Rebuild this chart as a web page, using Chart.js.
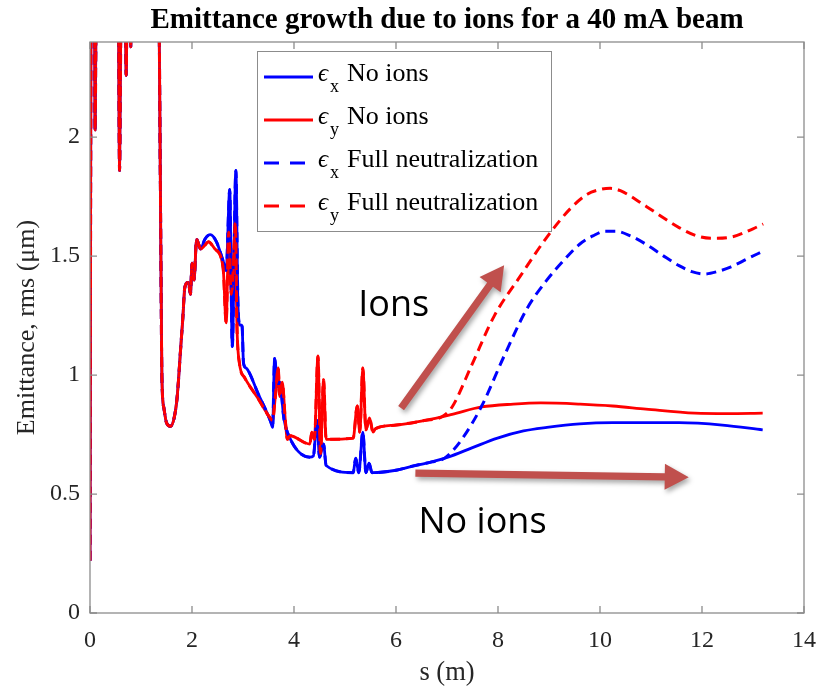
<!DOCTYPE html>
<html>
<head>
<meta charset="utf-8">
<script src="https://cdn.jsdelivr.net/npm/chart.js@4.4.1/dist/chart.umd.min.js"></script>
<style>
  html, body { margin: 0; padding: 0; background: #fff; }
  #wrap { width: 829px; height: 689px; }
</style>
</head>
<body>
<div id="wrap"><canvas id="grafica" width="829" height="689"></canvas></div>
<script>
// eps_x, no ions
const sBlue = [0, 0.03, 0.07, 0.09, 0.10, 0.12, 0.15, 0.50, 0.55, 0.58, 0.62, 0.68, 0.71, 0.74, 0.78, 0.80, 0.82,
  1.33, 1.38, 1.41, 1.45, 1.50, 1.58, 1.65, 1.71, 1.78, 1.82, 1.86, 1.93, 1.97, 2.00, 2.04, 2.09, 2.17, 2.25, 2.36,
  2.48, 2.61, 2.67, 2.74, 2.79, 2.86, 2.90, 2.94, 2.98, 3.01, 3.06, 3.30, 3.55, 3.58, 3.62, 3.68, 3.72, 3.80, 3.87,
  4.31, 4.38, 4.45, 4.50, 4.58, 4.63, 5.16, 5.21, 5.27, 5.35, 5.41, 5.47, 5.53, 6.00, 6.38, 6.70, 7.02, 7.50, 7.99,
  8.50, 8.96, 9.60, 10.25, 10.90, 11.55, 12.40, 13.19];
const exNoIons = [0.22, 3.2, 2.9, 2.5, 2.03, 2.6, 3.4, 3.2, 2.9, 1.86, 2.9, 3.0, 2.26, 3.0, 2.6, 2.38, 2.7,
  3.0, 1.8, 0.99, 0.86, 0.80, 0.785, 0.82, 0.91, 1.12, 1.24, 1.37, 1.39, 1.34, 1.47, 1.40, 1.57, 1.53, 1.57, 1.59,
  1.56, 1.48, 1.44, 1.78, 1.12, 1.86, 1.31, 1.21, 1.21, 1.05, 1.03, 0.92, 0.80, 0.78, 1.07, 0.95, 0.97, 0.82, 0.76,
  0.655, 0.66, 0.81, 0.655, 0.71, 0.62, 0.59, 0.65, 0.59, 0.76, 0.59, 0.63, 0.59, 0.60, 0.62, 0.635, 0.655, 0.695, 0.735,
  0.765, 0.78, 0.795, 0.80, 0.80, 0.80, 0.79, 0.77];

// eps_y, no ions
const sRed = [0, 0.03, 0.07, 0.09, 0.10, 0.12, 0.15, 0.50, 0.55, 0.58, 0.62, 0.68, 0.71, 0.74, 0.78, 0.80, 0.82,
  1.33, 1.38, 1.41, 1.45, 1.50, 1.58, 1.65, 1.71, 1.78, 1.82, 1.86, 1.93, 1.97, 2.00, 2.04, 2.09, 2.17, 2.25, 2.32,
  2.45, 2.61, 2.67, 2.72, 2.77, 2.81, 2.85, 2.88, 2.93, 3.03, 3.30, 3.53, 3.58, 3.63, 3.69, 3.72, 3.77, 3.83, 3.87,
  3.92, 4.31, 4.35, 4.40, 4.47, 4.52, 4.58, 4.63, 5.16, 5.24, 5.29, 5.35, 5.41, 5.48, 5.55, 5.60, 6.00, 6.58, 7.10,
  7.68, 8.30, 8.84, 9.61, 10.25, 10.90, 11.86, 12.50, 13.19];
const eyNoIons = [0.22, 3.2, 2.9, 2.5, 2.03, 2.6, 3.4, 3.2, 2.9, 1.86, 2.9, 3.0, 2.26, 3.0, 2.6, 2.38, 2.7,
  3.0, 1.8, 0.99, 0.86, 0.80, 0.785, 0.82, 0.91, 1.12, 1.24, 1.37, 1.39, 1.34, 1.47, 1.40, 1.57, 1.53, 1.545, 1.56,
  1.53, 1.45, 1.22, 1.60, 1.34, 1.45, 1.64, 1.22, 1.05, 0.99, 0.90, 0.82, 0.81, 0.90, 1.03, 0.91, 0.97, 0.81, 0.73,
  0.745, 0.71, 0.76, 0.73, 1.08, 0.67, 0.98, 0.73, 0.735, 0.87, 0.76, 1.03, 0.77, 0.82, 0.76, 0.775, 0.79, 0.81, 0.835,
  0.866, 0.878, 0.883, 0.878, 0.87, 0.857, 0.84, 0.838, 0.84];

// full neutralization: same as no ions up to the split, then these
const sBlueFull = [6.96, 7.29, 7.68, 8.12, 8.57, 8.96, 9.28, 9.60, 9.86, 10.10, 10.30, 10.60, 10.90, 11.25, 11.55,
  11.80, 12.05, 12.30, 12.57, 12.90, 13.19];
const exFull = [0.652, 0.73, 0.87, 1.08, 1.28, 1.40, 1.48, 1.55, 1.585, 1.605, 1.605, 1.585, 1.55, 1.50, 1.46,
  1.435, 1.425, 1.435, 1.455, 1.49, 1.52];
const sRedFull = [6.90, 7.10, 7.48, 7.93, 8.45, 8.96, 9.42, 9.75, 10.00, 10.20, 10.40, 10.90, 11.25, 11.55, 11.90,
  12.19, 12.57, 13.00, 13.20];
const eyFull = [0.825, 0.866, 1.04, 1.25, 1.42, 1.58, 1.70, 1.76, 1.78, 1.785, 1.775, 1.71, 1.66, 1.62, 1.585,
  1.575, 1.58, 1.615, 1.635];

const xTicks = [0, 2, 4, 6, 8, 10, 12, 14];
const yTicks = [0, 0.5, 1, 1.5, 2];
const etiquetas = [
  { sub: 'x', texto: 'No ions' },
  { sub: 'y', texto: 'No ions' },
  { sub: 'x', texto: 'Full neutralization' },
  { sub: 'y', texto: 'Full neutralization' }
];

const AZUL = '#0000ff', ROJO = '#ff0000', FLECHA = '#c0504d', EJE = '#8c8c8c';
const SERIF = '"Liberation Serif", "Times New Roman", "DejaVu Serif", serif';
const DASH = [10, 6];

// annotation anchors in data units (s, emittance)
const notas = {
  ions: { s: 5.26, e: 1.248, texto: 'Ions' },
  noIons: { s: 6.44, e: 0.336, texto: 'No ions' },
  flechaIons: [[6.10, 0.861], [8.12, 1.462]],
  flechaNo: [[6.38, 0.588], [11.74, 0.571]]
};

function puntos(xs, ys) { return xs.map((x, i) => ({ x, y: ys[i] })); }
function conCorte(xs, ys, xsFin, ysFin) {
  const corte = xsFin[0];
  return puntos(xs, ys).filter(p => p.x < corte).concat(puntos(xsFin, ysFin));
}

function flecha(ctx, x1, y1, x2, y2) {
  const ang = Math.atan2(y2 - y1, x2 - x1);
  const largo = Math.hypot(x2 - x1, y2 - y1);
  const cab = 24, anchoCab = 13, grosor = 3.6;
  ctx.save();
  ctx.translate(x1, y1);
  ctx.rotate(ang);
  ctx.shadowColor = 'rgba(0,0,0,0.35)';
  ctx.shadowBlur = 5;
  ctx.shadowOffsetX = 2;
  ctx.shadowOffsetY = 3;
  ctx.fillStyle = FLECHA;
  ctx.beginPath();
  ctx.moveTo(0, -grosor);
  ctx.lineTo(largo - cab, -grosor);
  ctx.lineTo(largo - cab, -anchoCab);
  ctx.lineTo(largo, 0);
  ctx.lineTo(largo - cab, anchoCab);
  ctx.lineTo(largo - cab, grosor);
  ctx.lineTo(0, grosor);
  ctx.closePath();
  ctx.fill();
  ctx.restore();
}

const decoracion = {
  id: 'decoracion',
  afterDatasetsDraw(chart) {
    const { ctx, chartArea: a, scales: { x, y } } = chart;
    ctx.save();
    ctx.strokeStyle = EJE;
    ctx.lineWidth = 1.3;
    ctx.strokeRect(a.left, a.top, a.right - a.left, a.bottom - a.top);
    ctx.beginPath();
    xTicks.forEach(v => {
      const px = x.getPixelForValue(v);
      ctx.moveTo(px, a.bottom); ctx.lineTo(px, a.bottom - 7);
      ctx.moveTo(px, a.top); ctx.lineTo(px, a.top + 7);
    });
    yTicks.forEach(v => {
      const py = y.getPixelForValue(v);
      ctx.moveTo(a.left, py); ctx.lineTo(a.left + 7, py);
      ctx.moveTo(a.right, py); ctx.lineTo(a.right - 7, py);
    });
    ctx.stroke();

    // title
    ctx.fillStyle = '#000';
    ctx.font = 'bold 29px ' + SERIF;
    ctx.textAlign = 'center';
    ctx.textBaseline = 'middle';
    ctx.fillText('Emittance growth due to ions for a 40 mA beam', (a.left + a.right) / 2, 21);

    // legend
    const lx = a.left + 167, ly = a.top + 9, lw = 294, lh = 180;
    ctx.fillStyle = '#fff';
    ctx.fillRect(lx, ly, lw, lh);
    ctx.strokeStyle = EJE;
    ctx.lineWidth = 1;
    ctx.strokeRect(lx + 0.5, ly + 0.5, lw, lh);
    chart.data.datasets.forEach((ds, i) => {
      const fy = ly + 26 + i * 43;
      ctx.strokeStyle = ds.borderColor;
      ctx.lineWidth = 3;
      ctx.setLineDash(ds.borderDash ? [15, 11] : []);
      ctx.beginPath(); ctx.moveTo(lx + 7, fy); ctx.lineTo(lx + 56, fy); ctx.stroke();
      ctx.setLineDash([]);
      ctx.fillStyle = '#000';
      ctx.textAlign = 'left';
      ctx.textBaseline = 'alphabetic';
      ctx.font = 'italic 25px ' + SERIF;
      ctx.fillText('\u03f5', lx + 61, fy + 4);
      ctx.font = '18px ' + SERIF;
      ctx.fillText(etiquetas[i].sub, lx + 73, fy + 15);
      ctx.font = '26px ' + SERIF;
      ctx.fillText(etiquetas[i].texto, lx + 90, fy + 4);
    });

    // annotations
    const P = (s, e) => [x.getPixelForValue(s), y.getPixelForValue(e)];
    const [a1, b1] = notas.flechaIons.map(p => P(p[0], p[1]));
    const [a2, b2] = notas.flechaNo.map(p => P(p[0], p[1]));
    flecha(ctx, a1[0], a1[1], b1[0], b1[1]);
    flecha(ctx, a2[0], a2[1], b2[0], b2[1]);
    ctx.fillStyle = '#000';
    ctx.font = '36px "Open Sans", "Noto Sans", sans-serif';
    ctx.textAlign = 'left';
    ctx.textBaseline = 'alphabetic';
    [notas.ions, notas.noIons].forEach(n => {
      const [px, py] = P(n.s, n.e);
      ctx.fillText(n.texto, px, py);
    });
    ctx.restore();
  }
};

Chart.defaults.font.family = SERIF;

new Chart(document.getElementById('grafica'), {
  type: 'line',
  data: {
    datasets: [
      { label: 'ex no ions', data: puntos(sBlue, exNoIons), borderColor: AZUL, borderWidth: 2.8, order: 3 },
      { label: 'ey no ions', data: puntos(sRed, eyNoIons), borderColor: ROJO, borderWidth: 2.8, order: 2 },
      { label: 'ex full', data: conCorte(sBlue, exNoIons, sBlueFull, exFull), borderColor: AZUL, borderWidth: 3, borderDash: DASH, order: 1 },
      { label: 'ey full', data: conCorte(sRed, eyNoIons, sRedFull, eyFull), borderColor: ROJO, borderWidth: 3, borderDash: DASH, order: 0 }
    ]
  },
  options: {
    responsive: false,
    animation: false,
    parsing: false,
    layout: { padding: { top: 42, right: 15, left: 0, bottom: 0 } },
    elements: {
      point: { radius: 0 },
      line: { fill: false, cubicInterpolationMode: 'monotone', borderJoinStyle: 'round' }
    },
    plugins: { legend: { display: false }, tooltip: { enabled: false }, title: { display: false } },
    scales: {
      x: {
        type: 'linear', min: 0, max: 14,
        grid: { display: false, drawTicks: false },
        border: { display: false },
        afterBuildTicks: s => { s.ticks = xTicks.map(v => ({ value: v })); },
        afterFit: s => { s.height = 76; },
        ticks: { padding: 13, color: '#262626', font: { size: 24 }, maxRotation: 0 },
        title: { display: true, text: 's (m)', color: '#262626', font: { size: 26.5 }, padding: { top: 0, bottom: 0 } }
      },
      y: {
        type: 'linear', min: 0, max: 2.4,
        grid: { display: false, drawTicks: false },
        border: { display: false },
        afterBuildTicks: s => { s.ticks = yTicks.map(v => ({ value: v })); },
        afterFit: s => { s.width = 90; },
        ticks: { padding: 10, color: '#262626', font: { size: 24 }, callback: v => String(v) },
        title: { display: true, text: 'Emittance, rms (\u03bcm)', color: '#262626', font: { size: 26 }, padding: { top: 12, bottom: 0 } }
      }
    }
  },
  plugins: [decoracion]
});
</script>
</body>
</html>
